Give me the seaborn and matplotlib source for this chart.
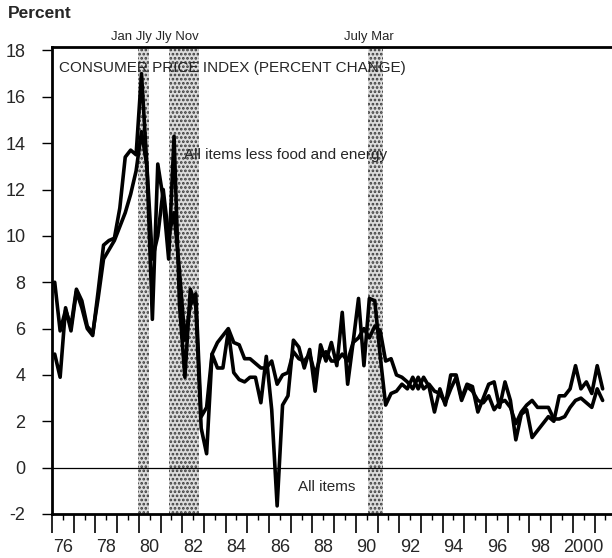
import numpy as np
import pandas as pd
import matplotlib
matplotlib.use("Agg")
import matplotlib.pyplot as plt
import seaborn as sns
from matplotlib import font_manager as fm
from matplotlib.ticker import FixedLocator, FuncFormatter, NullFormatter

# ---------------- data (quarterly, annualized percent change) ----------------
start_year = 1976
all_items = [
    4.9, 3.9, 6.9, 5.9,      # 1976
    7.6, 6.9, 6.0, 5.7,      # 1977
    7.6, 9.6, 9.8, 9.9,      # 1978
    11.2, 13.4, 13.7, 13.5,  # 1979
    17.0, 13.0, 6.4, 13.1,   # 1980
    11.6, 9.0, 14.3, 7.0,    # 1981
    3.9, 7.7, 7.0, 1.7,      # 1982
    0.6, 4.9, 4.3, 4.3,      # 1983
    5.9, 4.1, 3.8, 3.7,      # 1984
    3.9, 3.9, 2.8, 4.8,      # 1985
    2.5, -1.65, 2.7, 3.1,    # 1986
    5.5, 5.2, 4.3, 5.1,      # 1987
    3.3, 5.3, 4.6, 5.4,      # 1988
    4.4, 6.7, 3.6, 5.4,      # 1989
    7.3, 4.4, 7.3, 7.2,      # 1990
    4.8, 2.7, 3.2, 3.3,      # 1991
    3.6, 3.4, 3.9, 3.4,      # 1992
    3.9, 3.5, 2.4, 3.4,      # 1993
    2.7, 4.0, 4.0, 3.0,      # 1994
    3.6, 3.5, 2.4, 3.0,      # 1995
    3.6, 3.7, 2.6, 3.7,      # 1996
    2.9, 1.2, 2.3, 2.5,      # 1997
    1.3, 1.6, 1.9, 2.2,      # 1998
    2.0, 3.1, 3.1, 3.4,      # 1999
    4.4, 3.4, 3.7, 3.2,      # 2000
    4.4, 3.4,                # 2001
]
core = [
    8.0, 5.9, 6.8, 6.1,
    7.7, 7.2, 6.1, 5.8,
    7.3, 9.0, 9.4, 9.8,
    10.4, 11.0, 11.8, 12.8,
    14.5, 13.0, 9.0, 10.0,
    12.0, 10.0, 11.0, 8.5,
    5.5, 7.0, 7.5, 2.2,
    2.6, 4.9, 5.4, 5.7,
    6.0, 5.4, 5.3, 4.7,
    4.7, 4.5, 4.3, 4.3,
    4.6, 3.6, 4.0, 4.1,
    5.0, 4.7, 4.6, 4.9,
    4.0, 4.8, 5.0, 4.6,
    4.6, 4.9, 4.6, 5.4,
    5.6, 6.0, 5.6, 6.1,
    5.9, 4.6, 4.7, 4.0,
    3.9, 3.7, 3.4, 3.9,
    3.4, 3.6, 3.3, 3.2,
    2.8, 3.4, 3.9, 2.9,
    3.5, 3.3, 2.9, 2.8,
    3.1, 2.5, 2.8, 2.9,
    2.6, 1.9, 2.4, 2.7,
    2.9, 2.6, 2.6, 2.6,
    2.1, 2.1, 2.2, 2.6,
    2.9, 3.0, 2.8, 2.6,
    3.4, 2.9,
]
recession_start = [1979.97, 1981.4, 1990.55]
recession_end = [1980.48, 1982.77, 1991.25]
recession_labels = ["Jan Jly Jly Nov", "July Mar"]
recession_label_pos = [1980.75, 1990.6]
year_ticks = list(range(1976, 2002))
ytick_values = list(range(-2, 19, 2))

quarter_dates = start_year + 0.125 + 0.25 * np.arange(len(all_items))
df = pd.concat([
    pd.DataFrame({"date": quarter_dates, "value": all_items, "series": "All items"}),
    pd.DataFrame({"date": quarter_dates, "value": core, "series": "All items less food and energy"}),
])

# ---------------- fonts ----------------
sns.set_style("white")
names = {f.name for f in fm.fontManager.ttflist}
if "Liberation Sans Narrow" in names:
    narrow, nscale = "Liberation Sans Narrow", 1.0
else:
    narrow, nscale = "Liberation Sans", 0.82
plt.rcParams["font.family"] = ["Liberation Sans", "DejaVu Sans"]
plt.rcParams["hatch.linewidth"] = 1.3

# ---------------- figure ----------------
fig = plt.figure(figsize=(6.12, 5.58), dpi=100)
ax = fig.add_axes([52 / 612, 44 / 558, 560 / 612, 467 / 558])

for s, e in zip(recession_start, recession_end):
    ax.axvspan(s, e, facecolor="#dcdcdc", edgecolor="#3a3a3a", hatch="....",
               linewidth=0, zorder=0)

ax.axhline(0, color="black", lw=0.9, zorder=1)

sns.lineplot(data=df, x="date", y="value", hue="series",
             palette=["black", "black"], estimator=None, sort=False,
             linewidth=2.6, legend=False, ax=ax, zorder=3)

ax.set_xlim(1976.0, 1976 + 560 / 21.7)
ax.set_ylim(-1.9, 18.15)
ax.set_xlabel("")
ax.set_ylabel("")

# spines
for side in ["left", "top", "bottom"]:
    ax.spines[side].set_visible(True)
    ax.spines[side].set_linewidth(2.0)
    ax.spines[side].set_color("black")
ax.spines["right"].set_visible(False)

# x ticks: long ticks at year boundaries, short at mid-year with labels on even years
ax.xaxis.set_major_locator(FixedLocator(year_ticks))
ax.xaxis.set_major_formatter(NullFormatter())
ax.xaxis.set_minor_locator(FixedLocator([y + 0.5 for y in year_ticks]))


def xlab(v, pos):
    y = int(np.floor(v))
    if y % 2 == 0:
        return str(y) if y >= 2000 else str(y % 100)
    return ""


ax.xaxis.set_minor_formatter(FuncFormatter(xlab))
ax.tick_params(axis="x", which="major", direction="out", length=14, width=1.2,
               color="black", bottom=True)
ax.tick_params(axis="x", which="minor", direction="out", length=4, width=1.0,
               color="black", bottom=True, pad=14, labelsize=13)

ax.set_yticks(ytick_values)
ax.set_yticklabels([str(v) for v in ytick_values])
ax.tick_params(axis="y", which="major", direction="out", length=7, width=1.0,
               color="black", left=True, pad=12, labelsize=13)

# texts
ax.text(0.0125, 0.955, "CONSUMER PRICE INDEX (PERCENT CHANGE)", transform=ax.transAxes,
        ha="left", va="center", fontsize=13.4 * nscale, family=narrow)
ax.text(0.236, 0.769, "All items less food and energy", transform=ax.transAxes,
        ha="left", va="center", fontsize=13.4 * nscale, family=narrow)
ax.text(0.439, 0.058, "All items", transform=ax.transAxes,
        ha="left", va="center", fontsize=13.4 * nscale, family=narrow)
for lab, xpos in zip(recession_labels, recession_label_pos):
    ax.text(xpos, 1.021, lab, transform=ax.get_xaxis_transform(),
            ha="center", va="center", fontsize=11.5 * nscale, family=narrow,
            clip_on=False)
fig.text(8 / 612, 1 - 14 / 558, "Percent", ha="left", va="center",
         fontsize=12.5 * nscale / 0.9 if nscale == 1.0 else 12.5,
         family=narrow, fontweight="bold")

fig.savefig("out.png", dpi=100)
